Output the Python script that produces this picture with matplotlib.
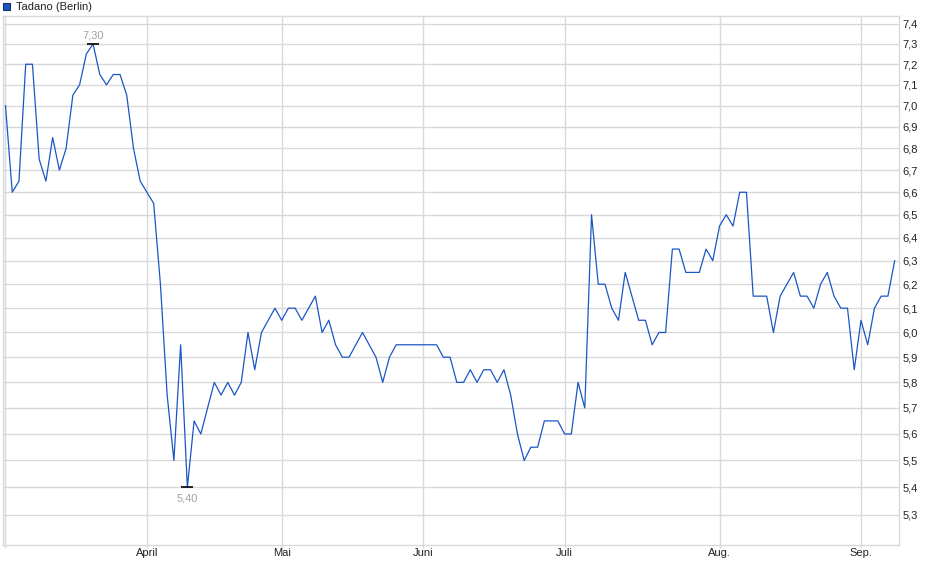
import numpy as np
import matplotlib
matplotlib.use("Agg")
import matplotlib.pyplot as plt
from matplotlib.patches import Rectangle
from matplotlib.ticker import FixedLocator, FixedFormatter, NullLocator, NullFormatter

plt.rcParams['font.family'] = ['Liberation Sans', 'DejaVu Sans']

# daily closing prices, one value per trading day (Mar 3 .. Sep 8)
prices_mar = [7.0, 6.6, 6.65, 7.2, 7.2, 6.75, 6.65, 6.85, 6.7, 6.8,
              7.05, 7.1, 7.25, 7.3, 7.15, 7.1, 7.15, 7.15, 7.05, 6.8, 6.65]
prices_apr = [6.6, 6.55, 6.2, 5.75, 5.5, 5.95, 5.4, 5.65, 5.6, 5.7,
              5.8, 5.75, 5.8, 5.75, 5.8, 6.0, 5.85, 6.0, 6.05, 6.1]
prices_may = [6.05, 6.1, 6.1, 6.05, 6.1, 6.15, 6.0, 6.05, 5.95, 5.9,
              5.9, 5.95, 6.0, 5.95, 5.9, 5.8, 5.9, 5.95, 5.95, 5.95, 5.95]
prices_jun = [5.95, 5.95, 5.95, 5.9, 5.9, 5.8, 5.8, 5.85, 5.8, 5.85,
              5.85, 5.8, 5.85, 5.75, 5.6, 5.5, 5.55, 5.55, 5.65, 5.65, 5.65]
prices_jul = [5.6, 5.6, 5.8, 5.7, 6.5, 6.2, 6.2, 6.1, 6.05, 6.25,
              6.15, 6.05, 6.05, 5.95, 6.0, 6.0, 6.35, 6.35, 6.25, 6.25,
              6.25, 6.35, 6.3]
prices_aug = [6.45, 6.5, 6.45, 6.6, 6.6, 6.15, 6.15, 6.15, 6.0, 6.15,
              6.2, 6.25, 6.15, 6.15, 6.1, 6.2, 6.25, 6.15, 6.1, 6.1, 5.85]
prices_sep = [6.05, 5.95, 6.1, 6.15, 6.15, 6.3]

prices = prices_mar + prices_apr + prices_may + prices_jun + prices_jul + prices_aug + prices_sep

month_labels = ['', 'April', 'Mai', 'Juni', 'Juli', 'Aug.', 'Sep.']
month_starts = [0, 21, 41, 62, 83, 106, 127]

y_ticks = [round(5.3 + 0.1 * k, 1) for k in range(22)]

x = np.arange(len(prices))
line_color = '#1a56c4'
grid_color = '#d9d9d9'

fig = plt.figure(figsize=(9.4, 5.79), dpi=100)
ax = fig.add_axes([3 / 940, 34 / 579, 895.7 / 940, 529 / 579])

ax.plot(x, prices, color=line_color, lw=0.9, zorder=3)

ax.set_yscale('log')
ax.set_ylim(5.193, 7.44)
ax.set_xlim(-0.37, 132.6)

ax.yaxis.set_major_locator(FixedLocator(y_ticks))
ax.yaxis.set_major_formatter(FixedFormatter([f'{v:.1f}'.replace('.', ',') for v in y_ticks]))
ax.yaxis.set_minor_locator(NullLocator())
ax.yaxis.set_minor_formatter(NullFormatter())
ax.yaxis.tick_right()
ax.tick_params(axis='y', length=0, pad=3, labelsize=8, labelcolor='#222222')

ax.set_xticks(month_starts)
ax.set_xticklabels(month_labels)
ax.tick_params(axis='x', length=2, width=1, color=grid_color, pad=0, labelsize=8, labelcolor='#222222')

ax.grid(True, color=grid_color, lw=1)
ax.set_axisbelow(True)
for s in ax.spines.values():
    s.set_color(grid_color)
    s.set_linewidth(1)

# high / low markers
i_max = int(np.argmax(prices))
i_min = int(np.argmin(prices))
ax.plot([i_max], [prices[i_max]], marker='_', color='black', ms=9, mew=1.2, zorder=4)
ax.plot([i_min], [prices[i_min]], marker='_', color='black', ms=9, mew=1.2, zorder=4)
ax.annotate(f'{prices[i_max]:.2f}'.replace('.', ','), (i_max, prices[i_max]),
            xytext=(0, 6), textcoords='offset points', ha='center', va='center',
            fontsize=8, color='#a8a09a')
ax.annotate(f'{prices[i_min]:.2f}'.replace('.', ','), (i_min, prices[i_min]),
            xytext=(0, -8), textcoords='offset points', ha='center', va='center',
            fontsize=8, color='#a8a09a')

# legend square and title
fig.patches.append(Rectangle((3 / 940, 1 - 10 / 579), 7 / 940, 7 / 579,
                             transform=fig.transFigure, facecolor=line_color,
                             edgecolor='#1a2f6a', lw=0.8))
fig.text(16 / 940, 1 - 6.5 / 579, 'Tadano (Berlin)', fontsize=8, color='#222222',
         ha='left', va='center')

fig.savefig('out.png', dpi=100)
